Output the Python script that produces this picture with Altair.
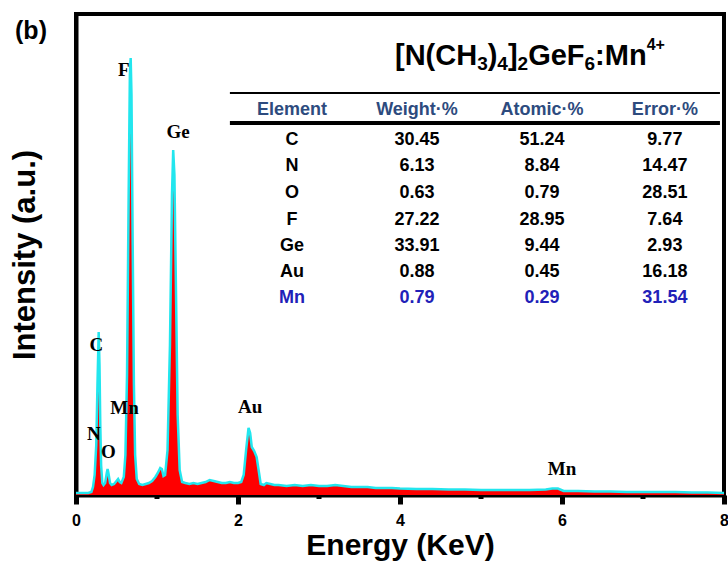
import altair as alt
import pandas as pd

# ---------------- data ----------------
energy = [0.00, 0.05, 0.10, 0.15, 0.19, 0.21, 0.23, 0.25, 0.265, 0.28, 0.29, 0.30, 0.31, 0.325,
          0.34, 0.36, 0.38, 0.39, 0.40, 0.42, 0.44, 0.47, 0.50, 0.52, 0.54, 0.56, 0.59, 0.61,
          0.63, 0.65, 0.665, 0.675, 0.685, 0.70, 0.715, 0.73, 0.75, 0.78, 0.82, 0.86, 0.90,
          0.94, 0.98, 1.01, 1.04, 1.06, 1.08, 1.10, 1.13, 1.16, 1.185, 1.20, 1.215, 1.235,
          1.255, 1.28, 1.31, 1.35, 1.40, 1.45, 1.50, 1.55, 1.60, 1.65, 1.70, 1.75, 1.80,
          1.85, 1.90, 1.95, 2.00, 2.04, 2.07, 2.10, 2.13, 2.15, 2.17, 2.20, 2.23, 2.26, 2.28,
          2.32, 2.35, 2.40, 2.45, 2.50, 2.60, 2.70, 2.80, 2.90, 3.00, 3.10, 3.20, 3.30, 3.40,
          3.50, 3.60, 3.70, 3.80, 3.90, 4.00, 4.20, 4.40, 4.60, 4.80, 5.00, 5.20, 5.40, 5.60,
          5.80, 5.88, 5.95, 6.02, 6.20, 6.40, 6.60, 6.80, 7.00, 7.20, 7.40, 7.60, 7.80, 8.00]
intensity = [2, 2, 2, 2, 3, 8, 20, 50, 110, 163, 130, 70, 30, 12,
             10, 12, 22, 26, 22, 12, 10, 11, 14, 16, 13, 12, 18, 40,
             120, 300, 420, 437, 400, 250, 110, 40, 16, 11, 10, 11, 12,
             14, 18, 22, 27, 26, 19, 20, 45, 150, 300, 345, 320, 200,
             80, 25, 13, 12, 11, 12, 11, 12, 13, 15, 14, 13, 12,
             12, 13, 12, 12, 13, 20, 45, 67, 62, 48, 44, 38, 22, 11,
             10, 12, 11, 10, 10, 9, 10, 9, 10, 9, 9, 10, 9, 8,
             8, 8, 7, 7, 7, 6.5, 6, 6, 5.5, 5.5, 5, 5, 5, 5,
             5.5, 6.5, 6.5, 4, 4, 3.5, 3.5, 3, 3, 3, 3, 2.5, 2.5, 2]

peak_names = ["F", "Ge", "C", "Mn", "N", "O", "Au", "Mn"]
peak_x = [0.59, 1.26, 0.25, 0.60, 0.22, 0.40, 2.15, 6.0]
peak_y = [425, 363, 150, 87, 61, 43, 88, 26]

table_headers = ["Element", "Weight·%", "Atomic·%", "Error·%"]
elements = ["C", "N", "O", "F", "Ge", "Au", "Mn"]
weight_pct = ["30.45", "6.13", "0.63", "27.22", "33.91", "0.88", "0.79"]
atomic_pct = ["51.24", "8.84", "0.79", "28.95", "9.44", "0.45", "0.29"]
error_pct = ["9.77", "14.47", "28.51", "7.64", "2.93", "16.18", "31.54"]

# formula "[N(CH3)4]2GeF6:Mn4+" split into normal / subscript / superscript runs
formula_parts = ["[N(CH", "3", ")", "4", "]", "2", "GeF", "6", ":Mn", "4+"]
formula_kinds = ["n", "sub", "n", "sub", "n", "sub", "n", "sub", "n", "sup"]

# ---------------- layout / style ----------------
W, H = 648, 481
PX_PER_KEV = W / 8
SANS = "Liberation Sans"
SERIF = "Liberation Serif"
col_x = [2.667, 4.21, 5.753, 7.27]          # column centres (KeV units)
header_y = 385
row_y = [355, 329, 302, 275, 249, 223, 197]

# approximate Arial-bold advance widths (per 1 em) used to lay out the formula runs
ADV = {"[": .333, "]": .333, "(": .333, ")": .333, "N": .722, "C": .722, "H": .722,
       "G": .778, "e": .556, "F": .611, ":": .333, "M": .833, "n": .611, "+": .584}
SIZES = {"n": 29, "sub": 19, "sup": 16}
DY = {"n": 0, "sub": 5, "sup": -15}
formula_start = (395 - 76) / PX_PER_KEV
formula_base = 430

x_scale = alt.Scale(domain=[0, 8], nice=False, zero=False)
y_scale = alt.Scale(domain=[0, 481], nice=False)

spec = pd.DataFrame({"E": energy, "I": intensity})

area = alt.Chart(spec).mark_area(color="#ff0000", interpolate="linear").encode(
    x=alt.X("E:Q", scale=x_scale,
            axis=alt.Axis(values=[0, 2, 4, 6, 8], title="Energy (KeV)", format="d",
                          grid=False, tickSize=9, tickWidth=5, tickColor="black",
                          domainWidth=4, domainColor="black",
                          labelFont=SANS, labelFontSize=16, labelFontWeight="bold",
                          labelColor="black", labelPadding=8, labelFlush=False,
                          titleFont=SANS, titleFontSize=30, titleFontWeight="bold",
                          titleColor="black", titlePadding=2)),
    y=alt.Y("I:Q", scale=y_scale,
            axis=alt.Axis(title="Intensity (a.u.)", labels=False, ticks=False, grid=False,
                          domainWidth=4, domainColor="black",
                          titleFont=SANS, titleFontSize=31, titleFontWeight="bold",
                          titleColor="black", titlePadding=35)),
)
line = alt.Chart(spec).mark_line(color="#22e6ee", strokeWidth=2.5).encode(x="E:Q", y="I:Q")

minor = alt.Chart(pd.DataFrame({"E": [1, 3, 5, 7]})).mark_rule(
    color="black", strokeWidth=5).encode(x="E:Q", y=alt.value(H), y2=alt.value(H + 4))

peaks = alt.Chart(pd.DataFrame({"E": peak_x, "I": peak_y, "t": peak_names})).mark_text(
    font=SERIF, fontSize=19, fontWeight="bold", color="black", baseline="middle").encode(
    x="E:Q", y="I:Q", text="t:N")

# formula runs
title_layers = []
cur = 0.0
for part, kind in zip(formula_parts, formula_kinds):
    size = SIZES[kind]
    df = pd.DataFrame({"E": [formula_start + cur / PX_PER_KEV], "I": [formula_base], "t": [part]})
    title_layers.append(alt.Chart(df).mark_text(
        font=SANS, fontSize=size, fontWeight="bold", color="black", align="left",
        baseline="alphabetic", dy=DY[kind]).encode(x="E:Q", y="I:Q", text="t:N"))
    cur += sum(ADV.get(ch, 0.556) for ch in part) * size

rules = alt.Chart(pd.DataFrame({"x1": [1.90, 1.90], "x2": [7.95, 7.95], "y": [402, 372],
                                "w": [2, 4]})).mark_rule(color="black").encode(
    x="x1:Q", x2="x2:Q", y="y:Q", strokeWidth=alt.StrokeWidth("w:Q", scale=None, legend=None))

rows = []
for j, h in enumerate(table_headers):
    rows.append({"E": col_x[j], "I": header_y, "t": h, "c": "#2d4b7e"})
for i, el in enumerate(elements):
    color = "#2121b8" if el == "Mn" else "black"
    for j, v in enumerate([el, weight_pct[i], atomic_pct[i], error_pct[i]]):
        rows.append({"E": col_x[j], "I": row_y[i], "t": v, "c": color})
table = alt.Chart(pd.DataFrame(rows)).mark_text(
    font=SANS, fontSize=18, fontWeight="bold", baseline="middle").encode(
    x="E:Q", y="I:Q", text="t:N", color=alt.Color("c:N", scale=None, legend=None))

label_b = alt.Chart(pd.DataFrame({"t": ["(b)"]})).mark_text(
    font=SANS, fontSize=25, fontWeight="bold", color="black", baseline="middle").encode(
    x=alt.value(-45), y=alt.value(17), text="t:N")

chart = alt.layer(area, line, minor, peaks, *title_layers, rules, table, label_b).properties(
    width=W, height=H,
    autosize=alt.AutoSizeParams(type="none"),
    padding={"left": 76, "top": 14, "right": 4, "bottom": 69},
    background="white",
).configure_view(stroke="black", strokeWidth=4)

chart.save("out.html", embed_options={"renderer": "svg", "actions": False})
